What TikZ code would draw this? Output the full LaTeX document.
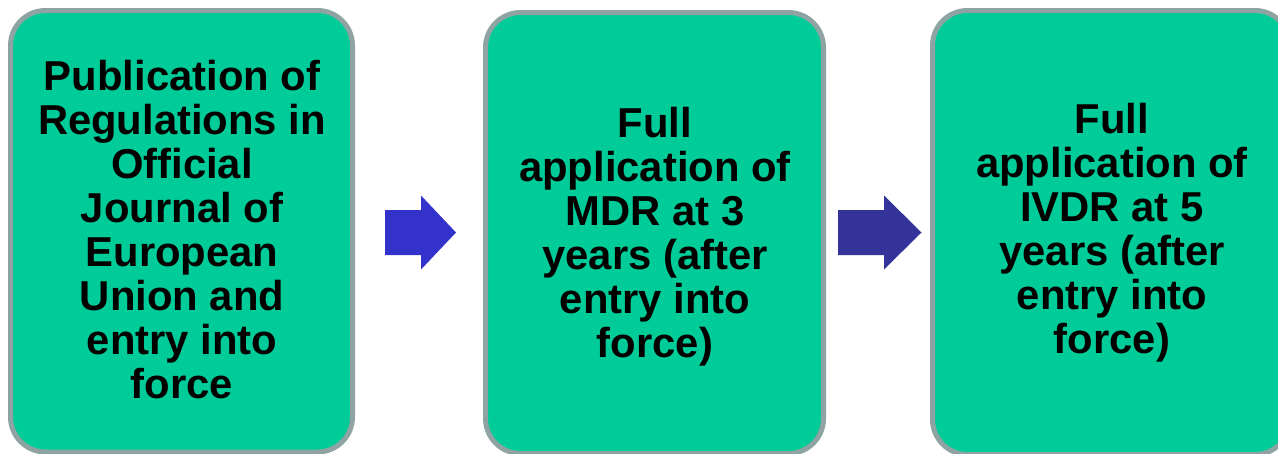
\documentclass[tikz,border=0pt]{standalone}
\usepackage{fontspec}
\setmainfont{Liberation Sans}
\definecolor{boxfill}{HTML}{00CC99}
\definecolor{boxline}{HTML}{8FA3A3}
\definecolor{arrowA}{HTML}{3333CC}
\definecolor{arrowB}{HTML}{333399}
\begin{document}
\begin{tikzpicture}[x=1pt,y=-1pt,
  stagebox/.style={draw=boxline, fill=boxfill, line width=5pt, rounded corners=35pt, inner sep=0pt},
  stagetext/.style={anchor=north, align=center, inner sep=0pt, font=\fontsize{41.8}{44}\selectfont\bfseries, text=black}]
\useasboundingbox (0,0) rectangle (1278,453);
\clip (0,0) rectangle (1278,453);
\node[stagebox, minimum width=342pt, minimum height=441.5pt] (b1) at (181.5,231.25) {};
\node[stagebox, minimum width=338pt, minimum height=441pt] (b2) at (654.5,233) {};
\node[stagebox, minimum width=357.5pt, minimum height=444pt] (b3) at (1111.25,232.5) {};
\node[stagetext] (t1) at (182,60) {Publication of\\Regulations in\\Official\\Journal of\\European\\Union and\\entry into\\force};
\node[stagetext] (t2) at (655,107) {Full\\application of\\MDR at 3\\years (after\\entry into\\force)};
\node[stagetext] (t3) at (1112,103) {Full\\application of\\IVDR at 5\\years (after\\entry into\\force)};
\fill[arrowA] (385,210) coordinate (a1s) -- (421,210) -- (421,195.5) -- (456,232.5) coordinate (a1t) -- (421,269.5) -- (421,255) -- (385,255) -- cycle;
\fill[arrowB] (838,210) coordinate (a2s) -- (884,210) -- (884,195.5) -- (921.5,232.5) coordinate (a2t) -- (884,269.5) -- (884,255) -- (838,255) -- cycle;
\end{tikzpicture}
\end{document}
